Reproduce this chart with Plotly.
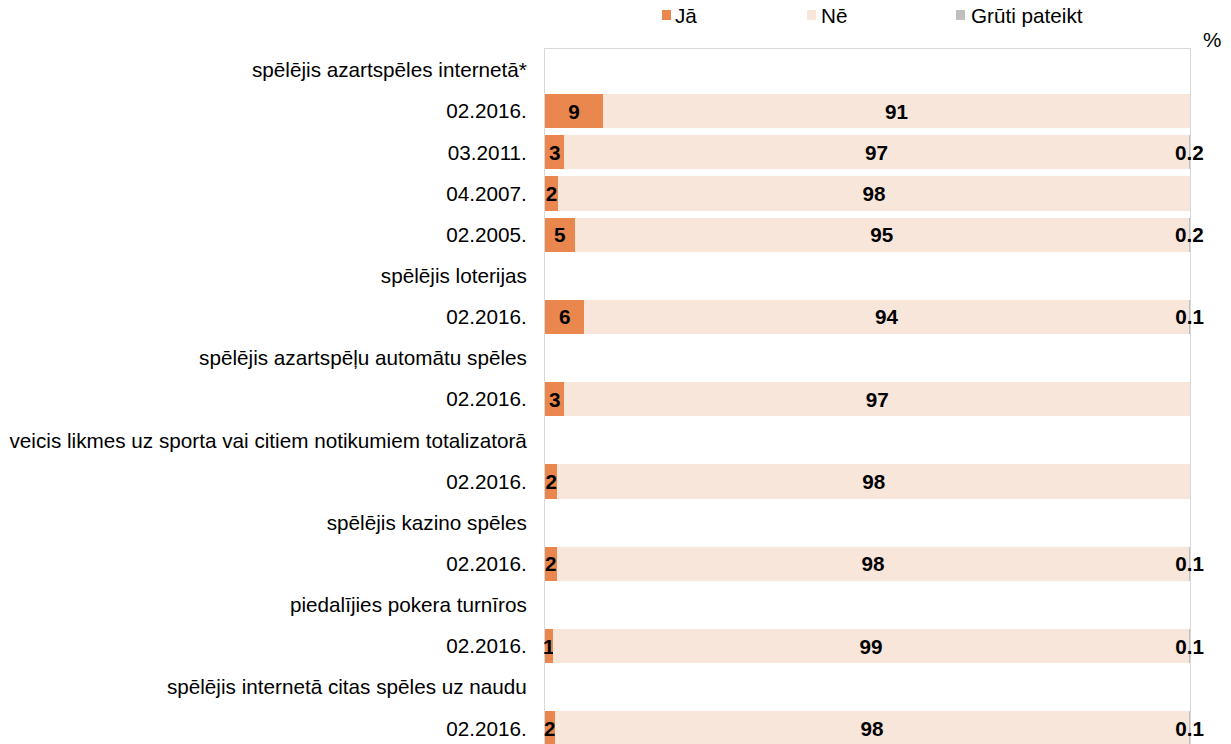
import plotly.graph_objects as go

# ---- data ----
row_labels = [
    "spēlējis azartspēles internetā*", "02.2016.", "03.2011.", "04.2007.", "02.2005.",
    "spēlējis loterijas", "02.2016.",
    "spēlējis azartspēļu automātu spēles", "02.2016.",
    "veicis likmes uz sporta vai citiem notikumiem totalizatorā", "02.2016.",
    "spēlējis kazino spēles", "02.2016.",
    "piedalījies pokera turnīros", "02.2016.",
    "spēlējis internetā citas spēles uz naudu", "02.2016.",
]
ja = [None, 9.0, 3.0, 2.0, 4.6, None, 6.1, None, 3.0, None, 1.9, None, 1.8, None, 1.2, None, 1.5]
ne = [None, 91.0, 96.8, 98.0, 95.2, None, 93.8, None, 97.0, None, 98.1, None, 98.1, None, 98.7, None, 98.4]
gruti = [None, None, 0.2, None, 0.2, None, 0.1, None, None, None, None, None, 0.1, None, 0.1, None, 0.1]
series_names = ["Jā", "Nē", "Grūti pateikt"]
series_colors = ["#E9874F", "#F9E6DB", "#BFBFBF"]

FONT = "Liberation Sans, Arial, sans-serif"
FS = 20.7
W, H = 1231, 744
L, R, T, B = 545, 41, 49, 0
pw, ph = W - L - R, H - T - B

def px_x(p):
    return (p - L) / pw

def px_y(p):
    return 1 - (p - T) / ph

ypos = list(range(len(row_labels)))

fig = go.Figure()
for vals, name, col, fmt in zip([ja, ne, gruti], series_names, series_colors,
                                ["%{x:.0f}", "%{x:.0f}", "%{x:.1f}"]):
    fig.add_trace(go.Bar(
        y=ypos, x=vals, name=name, orientation="h",
        marker=dict(color=col, line=dict(width=0)),
        width=0.83,
        texttemplate=fmt, textposition="inside", insidetextanchor="middle",
        textangle=0, constraintext="none", cliponaxis=False,
        textfont=dict(family=FONT, size=FS, color="black", weight="bold"),
        hoverinfo="skip", showlegend=False,
    ))

fig.update_layout(
    barmode="stack",
    width=W, height=H,
    margin=dict(l=L, r=R, t=T, b=B, pad=0),
    paper_bgcolor="white", plot_bgcolor="white",
    font=dict(family=FONT, size=FS, color="black"),
    bargap=0,
)
fig.update_xaxes(range=[0, 100], showgrid=False, zeroline=False,
                 showticklabels=False, ticks="", side="top", layer="below traces",
                 showline=True, linecolor="#D9D9D9", linewidth=1)
fig.update_yaxes(range=[16.38, -0.51], tickmode="array", tickvals=ypos,
                 ticktext=row_labels, showgrid=False, zeroline=False, ticks="",
                 ticklabelstandoff=13, layer="below traces",
                 showline=True, mirror=True, linecolor="#D9D9D9", linewidth=1,
                 tickfont=dict(family=FONT, size=FS, color="black"))

# manual legend
legend_items = [(662, 675), (807, 821), (956, 971)]
for (sq, tx), name, col in zip(legend_items, series_names, series_colors):
    fig.add_shape(type="rect", xref="paper", yref="paper",
                  x0=px_x(sq), x1=px_x(sq + 9), y0=px_y(20), y1=px_y(10),
                  fillcolor=col, line=dict(width=0))
    fig.add_annotation(text=name, xref="paper", yref="paper",
                       x=px_x(tx - 2), y=px_y(16), xanchor="left", yanchor="middle",
                       showarrow=False, font=dict(family=FONT, size=FS, color="black"))

fig.add_annotation(text="%", xref="paper", yref="paper",
                   x=px_x(1201), y=px_y(39), xanchor="left", yanchor="middle",
                   showarrow=False, font=dict(family=FONT, size=FS, color="black"))

fig.write_html("out.html",
               config={"displayModeBar": False, "staticPlot": True},
               post_script="document.body.style.margin='0px';document.body.style.overflow='hidden';")
